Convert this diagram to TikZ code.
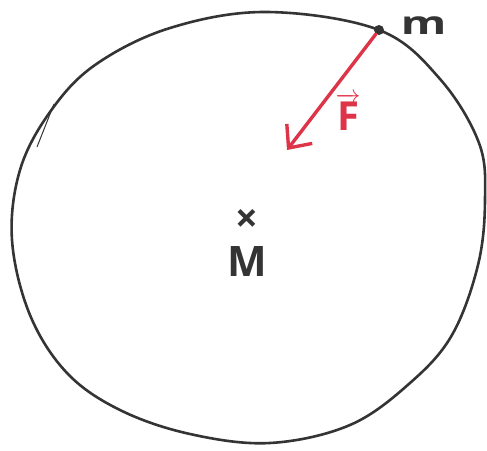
\documentclass[tikz,border=0pt]{standalone}
\usepackage{amsmath}
\usepackage{fontspec}
\setmainfont{Open Sans}
\usetikzlibrary{arrows.meta,positioning}
\definecolor{pencil}{RGB}{52,52,52}
\definecolor{forcered}{RGB}{222,52,72}

\begin{document}
\begin{tikzpicture}[
  x=1pt, y=-1pt,
  orbit/.style={draw=pencil, line width=2.6pt, line join=round},
  body/.style={circle, fill=pencil, inner sep=0pt, minimum size=10pt},
  force/.style={-{Straight Barb[length=18pt, width=32pt, line width=3.4pt]}, draw=forcered, line width=3.4pt, line cap=round},
  lbl/.style={text=pencil, inner sep=0pt},
]
  \useasboundingbox (0,0) rectangle (487,450);

  % the orbit, drawn by hand
  \draw[orbit] plot[smooth cycle, tension=0.6] coordinates {
    (267,12) (379,30) (440,79) (479,143) (485,200) (478,265) (452,335)
    (410,383) (350,425) (270,443) (190,434) (120,410) (67,373) (30,315)
    (12,240) (20,170) (50,112) (95,65) (170,28)};
  \draw[orbit, line width=1pt] (37,147) -- (54,104);

  % mass on the orbit and the central body
  \node[body] (m) at (379,30) {};
  \node[lbl, font=\fontsize{32}{32}\selectfont\bfseries, xscale=1.45, above right=-8pt and 18pt of m] (mlabel) {m};

  \node[lbl, font=\fontsize{40}{40}\selectfont\bfseries] (center) at (247,221) {×};
  \node[lbl, font=\fontsize{42}{42}\selectfont\bfseries, below=14pt of center] (Mlabel) {M};

  % attraction towards the centre
  \coordinate (tip) at (287,150);
  \draw[force] (m) -- (tip);
  \node[text=forcered, font=\fontsize{40}{40}\selectfont\bfseries] (F) at (348,112) {$\overrightarrow{\text{F}}$};
\end{tikzpicture}
\end{document}
